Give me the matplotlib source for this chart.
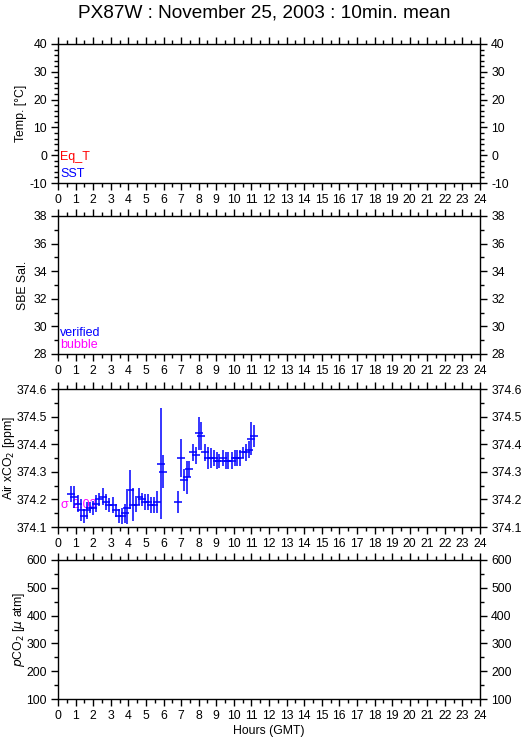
import matplotlib
matplotlib.use("Agg")
import matplotlib.pyplot as plt
import numpy as np

# 10-min mean air xCO2 (hours GMT, ppm, half error bar)
hours = [0.76, 0.93, 1.12, 1.29, 1.46, 1.65, 1.80, 1.98, 2.17, 2.35,
         2.54, 2.72, 2.90, 3.10, 3.28, 3.45, 3.62, 3.80, 3.95, 4.12,
         4.27, 4.44, 4.63, 4.80, 4.97, 5.13, 5.31, 5.47, 5.64, 5.83,
         5.98, 6.83, 6.98, 7.15, 7.31, 7.46, 7.66, 7.82, 8.00, 8.16,
         8.35, 8.53, 8.69, 8.88, 9.05, 9.18, 9.36, 9.53, 9.68, 9.87,
         10.06, 10.20, 10.37, 10.54, 10.71, 10.86, 10.99, 11.12]
xco2 = [374.22, 374.21, 374.185, 374.16, 374.14, 374.16, 374.17, 374.17, 374.185, 374.20,
        374.21, 374.19, 374.18, 374.18, 374.16, 374.14, 374.14, 374.15, 374.17, 374.235,
        374.18, 374.18, 374.21, 374.20, 374.19, 374.19, 374.18, 374.18, 374.19, 374.33,
        374.30, 374.19, 374.35, 374.27, 374.28, 374.31, 374.37, 374.36, 374.44, 374.43,
        374.37, 374.35, 374.35, 374.35, 374.34, 374.34, 374.35, 374.34, 374.34, 374.34,
        374.35, 374.35, 374.35, 374.37, 374.37, 374.38, 374.42, 374.43]
xco2_err = [0.03, 0.04, 0.03, 0.04, 0.025, 0.03, 0.02, 0.025, 0.03, 0.025,
            0.03, 0.03, 0.025, 0.03, 0.025, 0.025, 0.03, 0.035, 0.06, 0.07,
            0.06, 0.025, 0.03, 0.025, 0.03, 0.03, 0.03, 0.03, 0.04, 0.2,
            0.06, 0.04, 0.07, 0.04, 0.06, 0.03, 0.03, 0.03, 0.06, 0.05,
            0.03, 0.04, 0.035, 0.03, 0.03, 0.025, 0.03, 0.03, 0.03, 0.03,
            0.03, 0.03, 0.03, 0.02, 0.03, 0.03, 0.06, 0.04]

hour_ticks = list(range(0, 25))
temp_ticks = [-10, 0, 10, 20, 30, 40]
sal_ticks = [28, 30, 32, 34, 36, 38]
air_ticks = [374.1, 374.2, 374.3, 374.4, 374.5, 374.6]
pco2_ticks = [100, 200, 300, 400, 500, 600]

plt.rcParams['font.family'] = ['Liberation Sans', 'DejaVu Sans']
W, H = 529, 739
fig = plt.figure(figsize=(W / 100, H / 100), dpi=100)

# panel boxes in pixels: (top, bottom), and x of the y label's right edge
x0, x1 = 58, 480
boxes = [(44, 183), (216, 354), (389, 527), (560, 699)]
label_x = [27, 29, 17, 27]
specs = [
    (temp_ticks, 2, "Temp. [°C]", "{:g}"),
    (sal_ticks, 1, "SBE Sal.", "{:g}"),
    (air_ticks, 0.05, "Air xCO$_2$ [ppm]", "{:.1f}"),
    (pco2_ticks, 50, "$p$CO$_2$ [$\\mu$ atm]", "{:g}"),
]

axes = []
for (top, bot), lx, (yt, ystep, ylab, fmt) in zip(boxes, label_x, specs):
    ax = fig.add_axes([x0 / W, 1 - bot / H, (x1 - x0) / W, (bot - top) / H])
    ax.set_xlim(0, 24)
    ax.set_ylim(yt[0], yt[-1])
    ax.set_xticks(hour_ticks)
    ax.set_xticks(np.arange(0, 24.01, 0.5), minor=True)
    ax.set_yticks(yt)
    ax.set_yticklabels([fmt.format(v) for v in yt])
    ax.set_yticks(np.arange(yt[0], yt[-1] + 1e-9, ystep), minor=True)
    ax.tick_params(which='both', direction='out', top=True, right=True,
                   labelright=True, labelsize=8.8, width=1, color='black')
    ax.tick_params(which='major', length=5, pad=3)
    ax.tick_params(which='minor', length=3)
    ax.tick_params(axis='x', which='both', top=True, labeltop=False)
    for s in ax.spines.values():
        s.set_linewidth(1)
    ax.set_ylabel(ylab, fontsize=8.8)
    ax.yaxis.set_label_coords((lx - x0) / (x1 - x0), 0.5)
    axes.append(ax)

ax1, ax2, ax3, ax4 = axes

ax1.text(0.12, -1.8, "Eq_T", color='red', fontsize=9)
ax1.text(0.12, -7.8, "SST", color='blue', fontsize=9)
ax2.text(0.12, 29.3, "verified", color='blue', fontsize=9)
ax2.text(0.12, 28.4, "bubble", color='magenta', fontsize=9)

ax3.text(0.15, 374.168, "σ 2.03", color='magenta', fontsize=9, zorder=1)
ax3.errorbar(hours, xco2, yerr=xco2_err, fmt='_', color='blue', ms=6,
             mew=1.1, elinewidth=1.1, capsize=0, zorder=2)

ax4.set_xlabel("Hours (GMT)", fontsize=8.8, labelpad=2)

fig.text(264 / W, 1 - 13 / H, "PX87W : November 25, 2003 : 10min. mean",
         ha='center', va='center', fontsize=13.7)

fig.savefig("out.png", dpi=100)
plt.close(fig)
